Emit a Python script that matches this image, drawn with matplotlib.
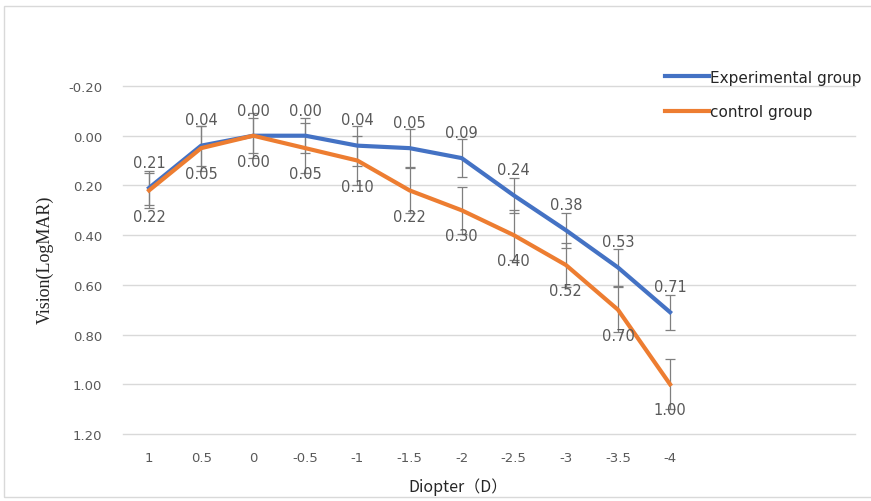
import matplotlib.pyplot as plt
import numpy as np
from matplotlib.patches import Rectangle

# Diopter categories and LogMAR vision values
diopters = ['1', '0.5', '0', '-0.5', '-1', '-1.5', '-2', '-2.5', '-3', '-3.5', '-4']
exp_vals = [0.21, 0.04, 0.00, 0.00, 0.04, 0.05, 0.09, 0.24, 0.38, 0.53, 0.71]
ctrl_vals = [0.22, 0.05, 0.00, 0.05, 0.10, 0.22, 0.30, 0.40, 0.52, 0.70, 1.00]
exp_err = [0.07, 0.08, 0.07, 0.07, 0.08, 0.075, 0.075, 0.07, 0.07, 0.075, 0.07]
ctrl_err = [0.07, 0.09, 0.09, 0.10, 0.10, 0.09, 0.095, 0.10, 0.09, 0.09, 0.10]

blue = '#4472C4'
orange = '#ED7D31'
grey_txt = '#595959'

fig = plt.figure(figsize=(8.71, 5.02), dpi=100)
ax = fig.add_axes([123 / 871, 1 - 435 / 502, (855 - 123) / 871, (435 - 87) / 502])

x = np.arange(len(diopters))

# error bars first, lines on top
ax.errorbar(x, exp_vals, yerr=exp_err, fmt='none', ecolor='#7f7f7f',
            elinewidth=0.9, capsize=3.5, capthick=0.9, zorder=2)
ax.errorbar(x, ctrl_vals, yerr=ctrl_err, fmt='none', ecolor='#7f7f7f',
            elinewidth=0.9, capsize=3.5, capthick=0.9, zorder=2)
ax.plot(x, exp_vals, color=blue, lw=3, label='Experimental group', zorder=3)
ax.plot(x, ctrl_vals, color=orange, lw=3, label='control group', zorder=4)

# data labels: experimental above, control below
for xi, v in zip(x, exp_vals):
    ax.annotate(f'{v:.2f}', (xi, v), xytext=(0, 18.5), textcoords='offset points',
                ha='center', va='center', fontsize=10.5, color=grey_txt, zorder=5)
for xi, v in zip(x, ctrl_vals):
    ax.annotate(f'{v:.2f}', (xi, v), xytext=(0, -18.5), textcoords='offset points',
                ha='center', va='center', fontsize=10.5, color=grey_txt, zorder=5)

ax.set_xlim(-0.5, 13.55)
ax.set_ylim(1.2, -0.2)
yt = np.arange(-0.2, 1.21, 0.2)
ax.set_yticks(yt)
ax.set_yticklabels([f'{t:.2f}' for t in yt])
ax.set_xticks(x)
ax.set_xticklabels(diopters)
ax.tick_params(axis='both', length=0, labelsize=9.5, colors=grey_txt)
ax.tick_params(axis='y', pad=15)
ax.tick_params(axis='x', pad=12)
ax.yaxis.grid(True, color='#d9d9d9', lw=1)
for gl in ax.get_ygridlines():
    gl.set_clip_on(False)
ax.set_axisbelow(True)
for s in ax.spines.values():
    s.set_visible(False)

leg = ax.legend(loc='upper left', bbox_to_anchor=(651 / 871, 1 - 57 / 502),
                bbox_transform=fig.transFigure, frameon=False, fontsize=11,
                handlelength=2.9, handletextpad=0.05, labelspacing=1.25)
for t in leg.get_texts():
    t.set_color('#262626')

fig.text(458 / 871, 1 - 487 / 502, 'Diopter（D）', ha='center', va='center',
         fontsize=11.5, color='#262626', family=['Noto Sans CJK SC', 'DejaVu Sans'])
fig.text(45 / 871, 1 - 260 / 502, 'Vision(LogMAR)', ha='center', va='center',
         rotation=90, fontsize=13, color='#262626', family='Liberation Serif')

# light frame around the chart area
fig.patches.append(Rectangle((4 / 871, 4 / 502), 1, 1 - 11 / 502,
                             transform=fig.transFigure, fill=False,
                             edgecolor='#d9d9d9', lw=1))

fig.savefig('out.png', dpi=100)
